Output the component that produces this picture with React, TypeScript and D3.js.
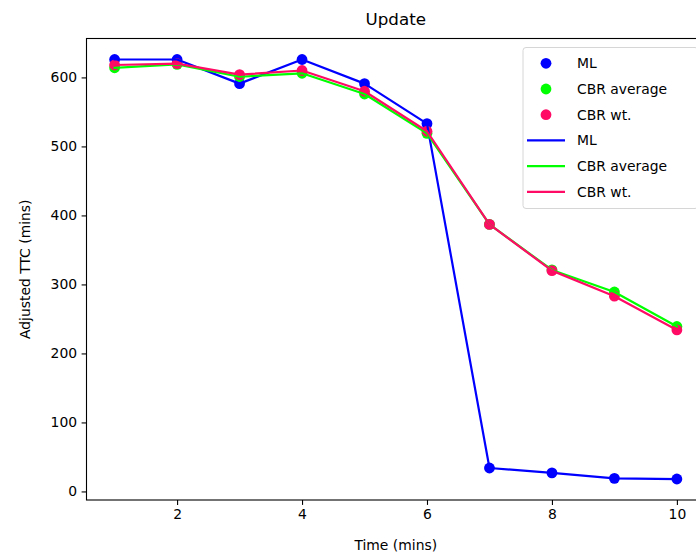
import { useEffect, useRef } from 'react';
import * as d3 from 'd3';

const times = [1, 2, 3, 4, 5, 6, 7, 8, 9, 10];
const mlValues = [626, 626, 591, 626, 591, 533, 34, 27, 19, 18];
const cbrAvgValues = [614, 619, 601, 606, 576, 519, 387, 321, 289, 239];
const cbrWtValues = [618, 620, 604, 610, 580, 522, 387, 320, 283, 234];

const seriesNames = ['ML', 'CBR average', 'CBR wt.'];
const seriesColors = ['#0000ff', '#00ff00', '#ff0a64'];
const xTicks = [2, 4, 6, 8, 10];
const yTicks = [0, 100, 200, 300, 400, 500, 600];

const W = 696;
const H = 556;
const FONT = 'DejaVu Sans, sans-serif';

const App = () => {
  const svgRef = useRef<SVGSVGElement>(null);

  useEffect(() => {
    const svg = d3.select(svgRef.current);
    svg.selectAll('*').remove();

    const left = 86.5;
    const right = 705;
    const top = 38.5;
    const bottom = 500;

    const allSeries = [mlValues, cbrAvgValues, cbrWtValues];
    const flat = allSeries.flat();
    const yMin = d3.min(flat) as number;
    const yMax = d3.max(flat) as number;
    const yPad = (yMax - yMin) * 0.05;
    const xPad = (d3.max(times)! - d3.min(times)!) * 0.05;

    const x = d3.scaleLinear()
      .domain([d3.min(times)! - xPad, d3.max(times)! + xPad])
      .range([left, right]);
    const y = d3.scaleLinear()
      .domain([yMin - yPad, yMax + yPad])
      .range([bottom, top]);

    svg.append('rect')
      .attr('width', W).attr('height', H).attr('fill', '#fff');

    // scatter (drawn below the lines, like matplotlib)
    allSeries.forEach((vals, si) => {
      svg.append('g')
        .selectAll('circle')
        .data(vals)
        .enter().append('circle')
        .attr('cx', (d, i) => x(times[i]))
        .attr('cy', d => y(d))
        .attr('r', 5.4)
        .attr('fill', seriesColors[si]);
    });

    // lines
    const line = d3.line<number>()
      .x((d, i) => x(times[i]))
      .y(d => y(d));
    allSeries.forEach((vals, si) => {
      svg.append('path')
        .datum(vals)
        .attr('d', line)
        .attr('fill', 'none')
        .attr('stroke', seriesColors[si])
        .attr('stroke-width', 2.2)
        .attr('stroke-linejoin', 'round')
        .attr('stroke-linecap', 'square');
    });

    // axes
    const xAxis = svg.append('g')
      .attr('transform', `translate(0,${bottom})`)
      .call(d3.axisBottom(x).tickValues(xTicks).tickSize(4.9).tickPadding(4.5).tickFormat(d3.format('d')));
    const yAxis = svg.append('g')
      .attr('transform', `translate(${left},0)`)
      .call(d3.axisLeft(y).tickValues(yTicks).tickSize(4.9).tickPadding(4.5).tickFormat(d3.format('d')));
    [xAxis, yAxis].forEach(a => {
      a.select('.domain').remove();
      a.selectAll('line').attr('stroke', '#000').attr('stroke-width', 1.1);
      a.selectAll('text')
        .attr('fill', '#000')
        .style('font-family', FONT)
        .style('font-size', '13.9px');
    });

    // frame
    svg.append('rect')
      .attr('x', left).attr('y', top)
      .attr('width', right - left).attr('height', bottom - top)
      .attr('fill', 'none').attr('stroke', '#000').attr('stroke-width', 1.1);

    // labels
    svg.append('text')
      .attr('x', (left + right) / 2).attr('y', 25)
      .attr('text-anchor', 'middle')
      .style('font-family', FONT).style('font-size', '16.7px')
      .text('Update');
    svg.append('text')
      .attr('x', (left + right) / 2).attr('y', 550)
      .attr('text-anchor', 'middle')
      .style('font-family', FONT).style('font-size', '13.9px')
      .text('Time (mins)');
    svg.append('text')
      .attr('transform', `translate(30,${(top + bottom) / 2}) rotate(-90)`)
      .attr('text-anchor', 'middle')
      .style('font-family', FONT).style('font-size', '13.9px')
      .text('Adjusted TTC (mins)');

    // legend
    const lg = svg.append('g');
    lg.append('rect')
      .attr('x', 523).attr('y', 47.5)
      .attr('width', right - 7 - 523).attr('height', 161)
      .attr('rx', 3)
      .attr('fill', '#fff').attr('fill-opacity', 0.8)
      .attr('stroke', '#d6d6d6').attr('stroke-width', 1);
    const rowY = (i: number) => 63.3 + i * 25.7;
    seriesNames.forEach((name, i) => {
      lg.append('circle')
        .attr('cx', 546).attr('cy', rowY(i)).attr('r', 5.4)
        .attr('fill', seriesColors[i]);
      lg.append('line')
        .attr('x1', 527).attr('x2', 565)
        .attr('y1', rowY(i + 3)).attr('y2', rowY(i + 3))
        .attr('stroke', seriesColors[i]).attr('stroke-width', 2.2);
    });
    [...seriesNames, ...seriesNames].forEach((name, i) => {
      lg.append('text')
        .attr('x', 577).attr('y', rowY(i) + 5)
        .style('font-family', FONT).style('font-size', '13.9px')
        .text(name);
    });
  }, []);

  return (
    <svg
      ref={svgRef}
      width={W}
      height={H}
      style={{ position: 'absolute', left: 0, top: 0 }}
    />
  );
};

export default App;
